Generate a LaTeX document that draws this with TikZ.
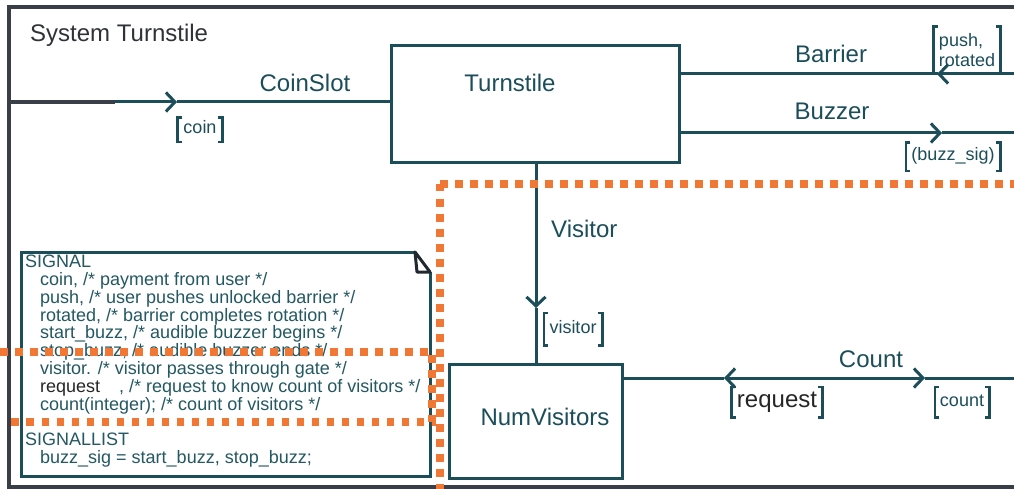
\documentclass[tikz,border=0pt]{standalone}
\usepackage{fontspec}
\setmainfont{Liberation Sans}
\usetikzlibrary{arrows.meta}

\definecolor{sigteal}{RGB}{28,78,90}
\definecolor{noteteal}{RGB}{36,88,98}
\definecolor{framegray}{RGB}{58,62,72}
\definecolor{titlegray}{RGB}{48,50,56}
\definecolor{dotorange}{RGB}{240,120,52}
\definecolor{foldgray}{RGB}{34,40,48}

% bracket pair drawn round a signal-set node
\newcommand\sigbrackets[1]{%
  \draw[brk] ([xshift=4.5pt]#1.north west) -- (#1.north west) -- (#1.south west) -- ([xshift=4.5pt]#1.south west);
  \draw[brk] ([xshift=-4.5pt]#1.north east) -- (#1.north east) -- (#1.south east) -- ([xshift=-4.5pt]#1.south east);}

\begin{document}
\begin{tikzpicture}[x=1pt,y=-1pt,
  frameline/.style={draw=framegray, line width=4pt},
  sig/.style={draw=sigteal, line width=3pt},
  tip/.style={-{Straight Barb[length=9pt,width=19pt]}},
  blockbox/.style={draw=sigteal, line width=3pt, inner sep=0pt},
  biglbl/.style={text=sigteal, font=\fontsize{24}{28}\selectfont, inner sep=0pt, anchor=base},
  sigtxt/.style={text=sigteal, font=\fontsize{18}{20}\selectfont, inner sep=0pt},
  sigbox/.style={sigtxt, text height=12pt, text depth=4pt},
  brk/.style={draw=sigteal, line width=2.6pt},
  dotline/.style={draw=dotorange, line width=7.5pt, dash pattern=on 7.5pt off 7.5pt},
]
\useasboundingbox (0,0) rectangle (1014,489);
\fill[white] (0,0) rectangle (1014,489);

% system frame
\coordinate (frameTR) at (1014,7);
\coordinate (frameTL) at (9,7);
\coordinate (frameBL) at (9,487);
\coordinate (frameBR) at (1014,487);
\draw[frameline] (frameTR) -- (frameTL) -- (frameBL) -- (frameBR);
\node[anchor=base west, text=titlegray, font=\fontsize{24}{28}\selectfont, inner sep=0pt]
  (sysLbl) at (30,42) {System Turnstile};

% blocks
\node[blockbox, minimum width=288pt, minimum height=117pt] (turnstile) at (535,104.5) {};
\node[biglbl] (turnstileLbl) at (510,92) {Turnstile};
\node[blockbox, minimum width=173pt, minimum height=114pt] (numvis) at (535.5,421) {};
\node[biglbl] (numvisLbl) at (545,425) {NumVisitors};

% CoinSlot channel
\coordinate (coinEnv) at (9,102);
\coordinate (coinPort) at (115,102);
\coordinate (coinTip) at (177,102);
\draw[framegray, line width=3.5pt] (coinEnv) -- (coinPort);
\draw[sig, tip] (coinPort) -- (coinTip);
\draw[sig] (coinTip) -- (turnstile.west |- coinTip);
\node[biglbl] (coinLbl) at (305,92) {CoinSlot};
\node[sigbox, minimum width=45pt, minimum height=24pt] (coinSig) at (200,130) {coin};
\sigbrackets{coinSig}

% Barrier channel
\coordinate (barEnv) at (1014,74);
\coordinate (barTip) at (937,74);
\draw[sig, tip] (barEnv) -- (barTip);
\draw[sig] (barTip) -- (turnstile.east |- barTip);
\node[biglbl] (barLbl) at (831,63) {Barrier};
\node[sigtxt, align=left, minimum width=67pt, minimum height=47pt,
  font=\fontsize{18}{20}\selectfont] (barSig) at (967,50) {push,\\rotated};
\sigbrackets{barSig}

% Buzzer channel
\coordinate (buzTip) at (942,133);
\coordinate (buzEnv) at (1014,133);
\draw[sig, tip] (turnstile.east |- buzTip) -- (buzTip);
\draw[sig] (buzTip) -- (buzEnv);
\node[biglbl] (buzLbl) at (832,120) {Buzzer};
\node[sigbox, minimum width=94pt, minimum height=28pt] (buzSig) at (953,157) {(buzz\_sig)};
\sigbrackets{buzSig}

% Visitor channel
\coordinate (visTip) at (536,308);
\draw[sig, tip] (visTip |- turnstile.south) -- (visTip);
\draw[sig] (visTip) -- (visTip |- numvis.north);
\node[anchor=base west, text=sigteal, font=\fontsize{24}{28}\selectfont, inner sep=0pt]
  (visLbl) at (551,237) {Visitor};
\node[sigbox, minimum width=58pt, minimum height=32pt] (visSig) at (573,329) {visitor};
\sigbrackets{visSig}

% Count channel
\coordinate (cntL) at (724,378);
\coordinate (cntMid) at (825,378);
\coordinate (cntR) at (925,378);
\coordinate (cntEnv) at (1014,378);
\draw[sig] (numvis.east |- cntL) -- (cntL);
\draw[sig, tip] (cntMid) -- (cntL);
\draw[sig, tip] (cntMid) -- (cntR);
\draw[sig] (cntR) -- (cntEnv);
\node[biglbl] (cntLbl) at (871,367) {Count};
\node[sigtxt, text=black!85, font=\fontsize{24}{28}\selectfont, text height=16pt, text depth=5pt,
  minimum width=91pt, minimum height=30pt] (reqSig) at (777,402) {request};
\sigbrackets{reqSig}
\node[sigbox, minimum width=54pt, minimum height=30pt] (cntSig) at (962,402) {count};
\sigbrackets{cntSig}

% text symbol with signal declarations
\coordinate (noteA) at (415,252);
\coordinate (noteB) at (21,252);
\coordinate (noteC) at (21,476);
\coordinate (noteD) at (430,476);
\coordinate (noteE) at (430,272);
\coordinate (noteF) at (417,272);
\draw[sig, fill=white] (noteA) -- (noteB) -- (noteC) -- (noteD) -- (noteE);
\draw[foldgray, line width=3pt, line join=round] (noteA) -- (noteF) -- (noteE) -- cycle;
\node[anchor=north west, inner sep=0pt, align=left, text=noteteal,
  font=\fontsize{18}{17.8}\selectfont] (declText) at (25,255) {%
SIGNAL\\
\hspace*{15pt}coin, /* payment from user */\\
\hspace*{15pt}push, /* user pushes unlocked barrier */\\
\hspace*{15pt}rotated, /* barrier completes rotation */\\
\hspace*{15pt}start\_buzz, /* audible buzzer begins */\\
\hspace*{15pt}stop\_buzz, /* audible buzzer ends */\\
\hspace*{15pt}visitor. /* visitor passes through gate */\\
\hspace*{15pt}{\setlength{\fboxsep}{0pt}\colorbox{white}{\color{black!85}request\hspace*{19pt}}}, /* request to know count of visitors */\\
\hspace*{15pt}count(integer); /* count of visitors */\\[17.8pt]
SIGNALLIST\\
\hspace*{15pt}buzz\_sig = start\_buzz, stop\_buzz;};

% dotted highlight outlines
\coordinate (dotCorner) at (440,184);
\draw[dotline] (dotCorner) -- (1014,184);
\draw[dotline] (dotCorner) -- (440,489);
\coordinate (dotA) at (0,352);
\coordinate (dotB) at (432,352);
\coordinate (dotC) at (432,422);
\coordinate (dotD) at (8,422);
\draw[dotline] (dotA) -- (dotB) -- (dotC) -- (dotD);
\end{tikzpicture}
\end{document}
